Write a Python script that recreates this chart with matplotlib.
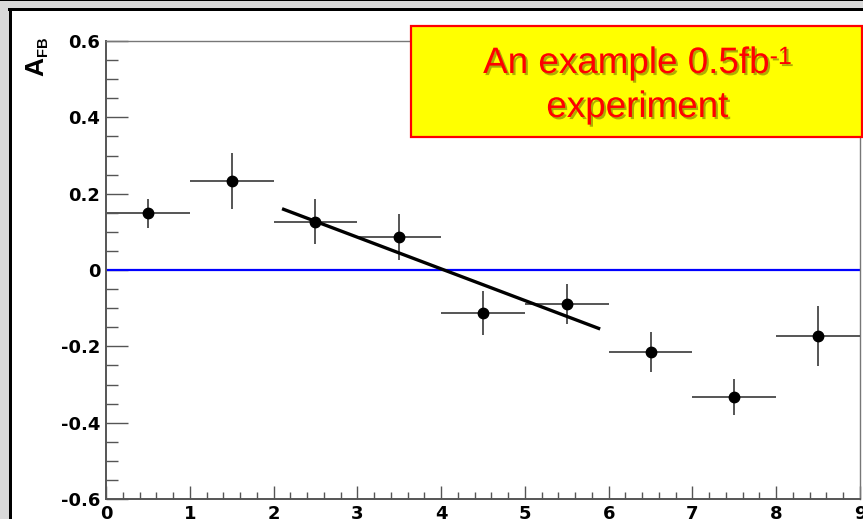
import matplotlib
matplotlib.use('Agg')
import numpy as np
import matplotlib.pyplot as plt
from matplotlib.patches import Rectangle
from matplotlib.ticker import MultipleLocator
import matplotlib.patheffects as pe

plt.rcParams['font.family'] = ['Liberation Sans', 'DejaVu Sans']

# data
bin_x = [0.5, 1.5, 2.5, 3.5, 4.5, 5.5, 6.5, 7.5, 8.5]
afb = [0.149, 0.233, 0.127, 0.087, -0.113, -0.089, -0.214, -0.332, -0.173]
afb_err = [0.038, 0.074, 0.059, 0.061, 0.058, 0.052, 0.052, 0.047, 0.078]
bin_half = [0.5] * 9

fit_x = [2.12, 5.88]
fit_y = [0.159, -0.153]

yticks = [-0.6, -0.4, -0.2, 0, 0.2, 0.4, 0.6]
ylabels = ['-0.6', '-0.4', '-0.2', '0', '0.2', '0.4', '0.6']
xticks = [0, 1, 2, 3, 4, 5, 6, 7, 8, 9]

W, H = 863, 519
fig = plt.figure(figsize=(W / 100, H / 100), dpi=100)
fig.patch.set_facecolor('white')


def box(x0, y0, x1, y1, **kw):
    # pixel box (top-left origin) -> figure fraction rectangle
    r = Rectangle((x0 / W, 1 - y1 / H), (x1 - x0) / W, (y1 - y0) / H,
                  transform=fig.transFigure, **kw)
    fig.add_artist(r)
    return r


# slide frame bits
box(0, 0, W, 8, facecolor='#d9d9d9', edgecolor='none', zorder=0)
box(0, 0, 9, H, facecolor='#d9d9d9', edgecolor='none', zorder=0)
box(0, 0, W, 1.2, facecolor='black', edgecolor='none', zorder=0)
box(8, 8, W, 11, facecolor='black', edgecolor='none', zorder=0)
box(9, 8, 12, H, facecolor='black', edgecolor='none', zorder=0)

ax = fig.add_axes([106 / W, 1 - 499 / H, (860 - 106) / W, (499 - 41) / H])
ax.set_xlim(0, 9)
ax.set_ylim(-0.6, 0.6)
ax.set_axisbelow(True)

ax.axhline(0, color='#0000ff', lw=1.6, zorder=1)
ax.errorbar(bin_x, afb, yerr=afb_err, xerr=bin_half, fmt='o', color='black',
            ecolor='#555555', elinewidth=1.4, capsize=0, markersize=7.5, zorder=3)
ax.plot(fit_x, fit_y, color='black', lw=2.4, zorder=4)

ax.set_yticks(yticks)
ax.set_yticklabels(ylabels, family='DejaVu Sans', fontweight='bold')
ax.set_xticks(xticks)
ax.set_xticklabels([str(t) for t in xticks], family='DejaVu Sans',
                   fontweight='bold')
ax.yaxis.set_minor_locator(MultipleLocator(0.05))
ax.xaxis.set_minor_locator(MultipleLocator(0.2))
ax.tick_params(axis='y', which='major', direction='in', length=16, width=1,
               color='#555555', pad=4, labelsize=13)
ax.tick_params(axis='y', which='minor', direction='in', length=8.6, width=1,
               color='#555555')
ax.tick_params(axis='x', which='major', direction='in', length=9.5, width=1,
               color='#555555', pad=4, labelsize=13)
ax.tick_params(axis='x', which='minor', direction='in', length=5, width=1,
               color='#555555')
for s in ['left', 'bottom']:
    ax.spines[s].set_color('#555555')
    ax.spines[s].set_linewidth(1.4)
for s in ['top', 'right']:
    ax.spines[s].set_color('#777777')
    ax.spines[s].set_linewidth(1.0)

# y title A_FB, rotated, at the top end of the axis
fig.text(43 / W, 1 - 76 / H, 'A', rotation=90, rotation_mode='anchor',
         ha='left', va='baseline', fontsize=19, fontweight='bold')
fig.text(47 / W, 1 - 56 / H, 'FB', rotation=90, rotation_mode='anchor',
         ha='left', va='baseline', fontsize=10.5, fontweight='bold')

# yellow label box
box(411, 26, 862, 137, facecolor='#ffff00', edgecolor='#ff0000',
    linewidth=1.6, zorder=5)
shadow = [pe.SimplePatchShadow(offset=(1.5, -1.5), shadow_rgbFace='#6b6b00',
                               alpha=0.55), pe.Normal()]
t1 = fig.text(0, 1 - 73 / H, 'An example 0.5fb', ha='left', va='baseline',
              fontsize=26.5, color='#ff0000', zorder=6, path_effects=shadow)
t2 = fig.text(0, 1 - 45 / H, '-1', ha='left', va='top',
              fontsize=18, color='#ff0000', zorder=6, path_effects=shadow)
fig.canvas.draw()
r = fig.canvas.get_renderer()
w1 = t1.get_window_extent(r).width
w2 = t2.get_window_extent(r).width
x_start = 637 - (w1 + w2) / 2
t1.set_x(x_start / W)
t2.set_x((x_start + w1 + 1) / W)
fig.text(637 / W, 1 - 117 / H, 'experiment', ha='center', va='baseline',
         fontsize=26.5, color='#ff0000', zorder=6, path_effects=shadow)

fig.savefig('out.png', dpi=100)
